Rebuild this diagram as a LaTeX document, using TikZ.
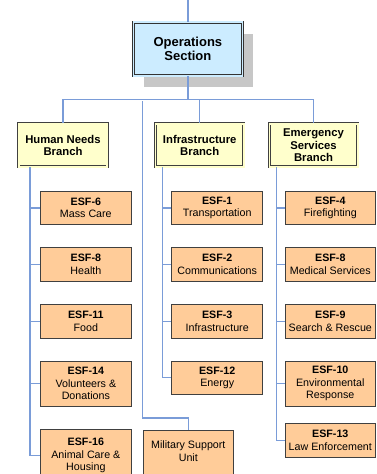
\documentclass[tikz,border=0pt]{standalone}
\usepackage{fontspec}
\setmainfont{Liberation Sans}
\usepackage{xcolor}
\usepackage{tikz}
\usetikzlibrary{arrows.meta, positioning, shadows}

\definecolor{opsblue}{RGB}{204,236,255}
\definecolor{branchyellow}{RGB}{255,255,204}
\definecolor{esforange}{RGB}{255,204,153}
\definecolor{linkblue}{RGB}{122,156,216}

\begin{document}
\begin{tikzpicture}[
        x=1pt, y=-1pt,
        section/.style={rectangle, draw=black!80, line width=0.7pt, double=opsblue, double distance=1.6pt, fill=opsblue, minimum width=109pt, minimum height=53.5pt, align=center, font=\fontsize{13}{14.3}\selectfont\bfseries, drop shadow={shadow xshift=10.5pt, shadow yshift=-11.7pt, fill=black!22, opacity=1}},
        branch/.style={rectangle, draw=black!75, line width=0.7pt, double=branchyellow, double distance=1.6pt, fill=branchyellow, minimum width=88.4pt, minimum height=43pt, inner sep=2pt, align=center, font=\fontsize{11.3}{12.6}\selectfont\bfseries},
        esf/.style={rectangle, draw=black!75, line width=1pt, fill=esforange, minimum width=90.5pt, minimum height=33.6pt, inner sep=2pt, align=center, font=\fontsize{10.7}{12.6}\selectfont},
        tall/.style={minimum height=45pt},
        cut/.style={minimum height=52pt},
        link/.style={draw=linkblue, line width=1.3pt},
    ]
        \useasboundingbox (0,0) rectangle (376,474);

        % Section
        \node[section] (ops) at (187.9,49) {Operations\\Section};

        % Branches
        \node[branch] (hn) at (63,145.3) {Human Needs\\Branch};
        \node[branch] (infra) at (199.7,145.3) {Infrastructure\\Branch};
        \node[branch] (es) at (313.5,145.3) {Emergency\\Services\\Branch};

        % Human needs ESFs
        \node[esf, anchor=north] (esf6) at (85.85,190.7) {\textbf{ESF-6}\\Mass Care};
        \node[esf, below=22pt of esf6] (esf8) {\textbf{ESF-8}\\Health};
        \node[esf, below=22pt of esf8] (esf11) {\textbf{ESF-11}\\Food};
        \node[esf, tall, below=22pt of esf11] (esf14) {\textbf{ESF-14}\\Volunteers \&\\Donations};
        \node[esf, cut, below=22.7pt of esf14] (esf16) {\textbf{ESF-16}\\Animal Care \&\\Housing};

        % Infrastructure ESFs
        \node[esf, anchor=north] (esf1) at (217.2,190.7) {\textbf{ESF-1}\\Transportation};
        \node[esf, below=22pt of esf1] (esf2) {\textbf{ESF-2}\\Communications};
        \node[esf, below=22pt of esf2] (esf3) {\textbf{ESF-3}\\Infrastructure};
        \node[esf, below=22pt of esf3] (esf12) {\textbf{ESF-12}\\Energy};

        % Emergency services ESFs
        \node[esf, anchor=north] (esf4) at (330.3,190.7) {\textbf{ESF-4}\\Firefighting};
        \node[esf, below=22pt of esf4] (esf8m) {\textbf{ESF-8}\\Medical Services};
        \node[esf, below=22pt of esf8m] (esf9) {\textbf{ESF-9}\\Search \& Rescue};
        \node[esf, tall, below=22pt of esf9] (esf10) {\textbf{ESF-10}\\Environmental\\Response};
        \node[esf, below=16.7pt of esf10] (esf13) {\textbf{ESF-13}\\Law Enforcement};

        % Military support
        \node[esf, cut, text depth=11pt, anchor=north] (msu) at (188.3,430) {Military Support\\Unit};

        % Connectors
        \coordinate (top) at (ops.north |- 0,0);
        \draw[link] (top) -- (ops.north);
        \draw[link] (ops.south) -- ++(0,23.7) coordinate (bus);
        \draw[link] (hn.north) |- (bus) -| (es.north);
        \draw[link] (bus -| infra.north) -- (infra.north);
        \coordinate (milbus) at (142.7,101);
        \draw[link] (milbus) -- ++(0,317) -| (msu.north);

        \coordinate (hnrail) at ([xshift=11.4pt]hn.south west);
        \coordinate (infrarail) at ([xshift=7.4pt]infra.south west);
        \coordinate (esrail) at ([xshift=7.6pt]es.south west);
        \foreach \c in {esf6, esf8, esf11, esf14, esf16}
            \draw[link] (hnrail) |- (\c.west);
        \foreach \c in {esf1, esf2, esf3, esf12}
            \draw[link] (infrarail) |- (\c.west);
        \foreach \c in {esf4, esf8m, esf9, esf10, esf13}
            \draw[link] (esrail) |- (\c.west);
    \end{tikzpicture}
\end{document}
